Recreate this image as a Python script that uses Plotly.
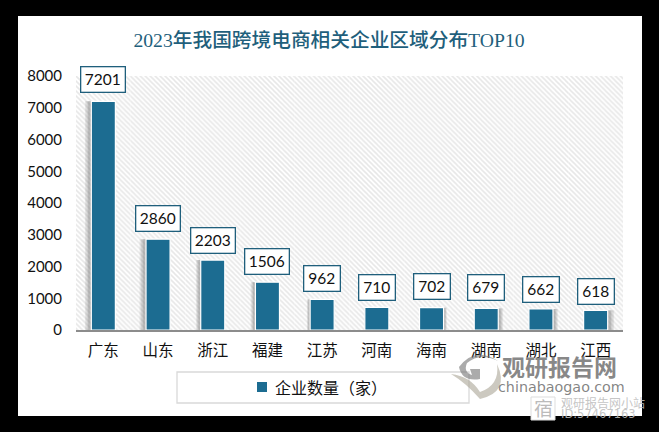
import plotly.graph_objects as go

provinces = ['广东', '山东', '浙江', '福建', '江苏', '河南', '海南', '湖南', '湖北', '江西']
companies = [7201, 2860, 2203, 1506, 962, 710, 702, 679, 662, 618]
y_ticks = [0, 1000, 2000, 3000, 4000, 5000, 6000, 7000, 8000]
backdrop = [8000] * len(provinces)

W, H = 659, 432
LEFT, RIGHT, TOP, BOTTOM = 76, 623, 76, 330
BLUE = '#1c6c91'
TITLE_BLUE = '#1f5f7c'
CJK = 'Lato, "Noto Sans CJK SC", sans-serif'

# per bar tweaks, the shadow swings from left to right across the chart
label_shift = [8, 7, 6, 7, 7, 6, 8, 7, 6, 5]
shadow_px = [-4, -4, -3, -3, -2, 0, 2, 3, 3, 4]
BAR_W = 0.44


def px(x):
    return (x - LEFT) / (RIGHT - LEFT)


def py(y):
    return (BOTTOM - y) / (BOTTOM - TOP)


fig = go.Figure()

fig.add_bar(x=provinces, y=backdrop, width=1, showlegend=False, hoverinfo='skip',
            marker=dict(color='white', line_width=0,
                        pattern=dict(shape='\\', fgcolor='#cfcfcf', bgcolor='white',
                                     size=3.5, solidity=0.45)))
# soft shadow, a few layers
for k, alpha in [(1.6, 0.16), (1.2, 0.2), (0.8, 0.25)]:
    fig.add_bar(x=provinces, y=companies, showlegend=False, hoverinfo='skip',
                width=BAR_W,
                offset=[-BAR_W / 2 + k * s / 54.7 for s in shadow_px],
                marker=dict(color=f'rgba(120,120,120,{alpha})', line_width=0))
fig.add_bar(x=provinces, y=companies, name='企业数量（家）', width=BAR_W, showlegend=False,
            marker=dict(color=BLUE, line=dict(color='white', width=1.2)))

for name, value, shift in zip(provinces, companies, label_shift):
    fig.add_annotation(x=name, y=value, text=str(value), showarrow=False,
                       yanchor='bottom', yshift=shift,
                       width=43 if value >= 1000 else 35, height=24,
                       bgcolor='white', bordercolor=TITLE_BLUE, borderwidth=1.3, borderpad=0,
                       font=dict(family='Lato, sans-serif', size=15.5, color='#111111'))

# white card on the black page
fig.add_shape(type='rect', xref='paper', yref='paper', layer='below',
              x0=px(18), x1=px(642), y0=py(416), y1=py(16),
              fillcolor='white', line_width=0)
# legend frame and key
fig.add_shape(type='rect', xref='paper', yref='paper', layer='below',
              x0=px(177), x1=px(469), y0=py(403), y1=py(372),
              fillcolor='rgba(0,0,0,0)', line=dict(color='#d9d9d9', width=1.3))
fig.add_shape(type='rect', xref='paper', yref='paper',
              x0=px(257), x1=px(267), y0=py(392), y1=py(382),
              fillcolor=BLUE, line_width=0)

# watermark logo, two rough swirls
GREY = 'rgba(120,120,120,0.62)'
SAND = 'rgba(170,165,150,0.6)'
fig.add_shape(type='path', xref='paper', yref='paper', fillcolor=GREY, line_width=0,
              path=(f'M {px(459)} {py(367)} Q {px(475)} {py(346)} {px(498)} {py(361)} '
                    f'Q {px(480)} {py(352)} {px(467)} {py(363)} Q {px(463)} {py(372)} {px(472)} {py(375)} '
                    f'L {px(470)} {py(369)} L {px(480)} {py(369)} L {px(480)} {py(379)} '
                    f'Q {px(462)} {py(382)} {px(459)} {py(367)} Z'))
fig.add_shape(type='path', xref='paper', yref='paper', fillcolor=SAND, line_width=0,
              path=(f'M {px(451)} {py(374)} Q {px(470)} {py(376)} {px(480)} {py(392)} '
                    f'Q {px(500)} {py(385)} {px(497)} {py(364)} Q {px(510)} {py(392)} {px(480)} {py(399)} '
                    f'Q {px(466)} {py(383)} {px(451)} {py(374)} Z'))
fig.add_shape(type='rect', xref='paper', yref='paper',
              x0=px(531), x1=px(555), y0=py(420), y1=py(397),
              fillcolor='white', line=dict(color='#dddddd', width=1))


def mark(text, x, y, size, color, anchor='left', family=CJK):
    fig.add_annotation(xref='paper', yref='paper', x=px(x), y=py(y), text=text,
                       showarrow=False, xanchor=anchor, yanchor='middle',
                       font=dict(family=family, size=size, color=color))


mark('企业数量（家）', 273, 387, 16, '#111111')
mark('<b>观研报告网</b>', 500, 367, 23, 'rgba(115,115,115,0.85)')
mark('chinabaogao.com', 496, 387, 14.3, 'rgba(110,110,110,0.85)', family='"DejaVu Sans", sans-serif')
mark('宿', 543, 408, 19, '#bbbbbb', anchor='center')
mark('观研报告网小站', 559, 403, 12, 'rgba(190,190,190,0.9)')
mark('ID:57467163', 559, 414, 11.5, 'rgba(190,190,190,0.9)', family='"DejaVu Sans", sans-serif')

fig.update_layout(
    width=W, height=H, autosize=False,
    margin=dict(l=LEFT, r=W - RIGHT, t=TOP, b=H - BOTTOM, pad=0),
    paper_bgcolor='black', plot_bgcolor='rgba(0,0,0,0)',
    barmode='overlay', showlegend=False,
    title=dict(text='2023年我国跨境电商相关企业区域分布TOP10',
               x=329 / W, xanchor='center', y=1 - 40 / H, yanchor='middle',
               font=dict(family='"Liberation Serif", "Noto Sans CJK SC", serif',
                         size=19.7, color=TITLE_BLUE, weight=500)),
)
fig.update_xaxes(showgrid=False, zeroline=False, showline=True, linecolor='#8c8c8c', linewidth=1.5,
                 ticks='outside', ticklen=6, tickcolor='rgba(0,0,0,0)',
                 tickfont=dict(family=CJK, size=15.5, color='#111111'))
fig.update_yaxes(range=[0, 8000], tickvals=y_ticks, showgrid=False, zeroline=False, showline=False,
                 ticks='outside', ticklen=10, tickcolor='rgba(0,0,0,0)',
                 tickfont=dict(family='Lato, sans-serif', size=15, color='#111111'))

# browser default body margin would push the black page off by 8px
fig.write_html("out.html", config={'displayModeBar': False},
               post_script="document.body.style.margin='0';document.body.style.background='black';")
